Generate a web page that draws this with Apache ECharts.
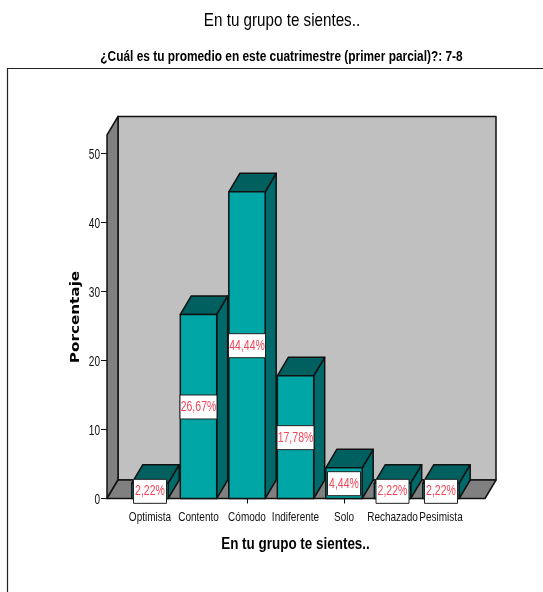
<!DOCTYPE html>
<html>
<head>
<meta charset="utf-8">
<style>html,body{margin:0;padding:0;background:#fff}#chart{width:543px;height:592px}</style>
<script src="https://cdn.jsdelivr.net/npm/echarts@6/dist/echarts.min.js"></script>
</head>
<body>
<div id="chart"></div>
<script>
// Survey responses, percentage of students per answer
const categories = ['Optimista', 'Contento', 'Cómodo', 'Indiferente', 'Solo', 'Rechazado', 'Pesimista'];
const percentages = [2.22, 26.67, 44.44, 17.78, 4.44, 2.22, 2.22];
const yTicks = [0, 10, 20, 30, 40, 50];
const yMax = 52.68;

// Oblique projection used for the box, and the box's margin beside the bands
const DX = 11, DY = 18.5, SIDE_PAD = 18.75;
const SANS = '"Liberation Sans",Arial,sans-serif';
const EDGE = { stroke: '#111', lineWidth: 1.5, lineJoin: 'round' };

function poly(points, fill, z2) {
  return { type: 'polygon', shape: { points }, style: { fill, ...EDGE }, z2: z2 || 0 };
}

// Horizontally condensed text, scaled about its anchor
function narrowText(text, x, y, font, fill, scaleX, z2, align) {
  return {
    type: 'text', x, y, scaleX,
    style: { text, fill, font, align: align || 'center', verticalAlign: 'middle' },
    z2: z2 || 0
  };
}

// Back wall, left wall and floor of the box
function renderBox(params, api) {
  const cs = params.coordSys;
  const l = cs.x - SIDE_PAD, r = cs.x + cs.width + SIDE_PAD + 1;
  const t = cs.y, b = cs.y + cs.height;
  return {
    type: 'group',
    children: [
      poly([[l + DX, t - DY], [r + DX, t - DY], [r + DX, b - DY], [l + DX, b - DY]], '#c0c0c0'),
      poly([[l, t], [l + DX, t - DY], [l + DX, b - DY], [l, b]], '#808080'),
      poly([[l, b], [l + DX, b - DY], [r + DX, b - DY], [r, b]], '#808080')
    ]
  };
}

// One extruded bar, its value tag and its category label
function renderBar(params, api) {
  const i = api.value(0), v = api.value(1);
  const [cx, top] = api.coord([i, v]);
  const [, base] = api.coord([i, 0]);
  const half = api.size([1, 0])[0] * 0.375;
  const x0 = cx - half, x1 = cx + half;
  const mid = (top + base) / 2 + 0.5;
  const text = v.toFixed(2).replace('.', ',') + '%';
  const tagW = text.length * 4 + 13;
  return {
    type: 'group',
    children: [
      poly([[x1, top], [x1 + DX, top - DY], [x1 + DX, base - DY], [x1, base]], '#006a6a', 1),
      poly([[x0, top], [x0 + DX, top - DY], [x1 + DX, top - DY], [x1, top]], '#005f5f', 1),
      poly([[x0, top], [x1, top], [x1, base], [x0, base]], '#00a6a6', 2),
      {
        type: 'rect',
        shape: { x: cx - tagW / 2, y: mid - 12, width: tagW, height: 24 },
        style: { fill: '#fff', stroke: '#222', lineWidth: 1 },
        z2: 3
      },
      narrowText(text, cx, mid, '15px ' + SANS, '#f2465a', 0.7, 4),
      narrowText(categories[i], cx, base + 19, '13px ' + SANS, '#111', 0.77, 4)
    ]
  };
}

// Value axis numbers, condensed like the other chart text
function renderTickLabel(params, api) {
  const v = api.value(0);
  const [x, y] = api.coord([0, v]);
  const xRight = params.coordSys.x - SIDE_PAD - 7;
  return narrowText(String(v), xRight, y + 1.5, '14px ' + SANS, '#111', 0.72, 1, 'right');
}

const chart = echarts.init(document.getElementById('chart'), null, { renderer: 'canvas' });
chart.setOption({
  animation: false,
  grid: { left: 125.75, top: 135, width: 339.5, height: 363.5 },
  xAxis: {
    type: 'category',
    data: categories,
    axisLine: { show: false },
    axisTick: { show: true, alignWithLabel: true, length: 5, lineStyle: { color: '#111' } },
    axisLabel: { show: false }
  },
  yAxis: {
    type: 'value',
    min: 0,
    max: yMax,
    offset: SIDE_PAD,
    splitLine: { show: false },
    axisLine: { show: false },
    axisTick: { show: true, length: 6, customValues: yTicks, lineStyle: { color: '#111' } },
    axisLabel: { show: false }
  },
  series: [
    { type: 'custom', coordinateSystem: 'cartesian2d', clip: false, silent: true, z: 1, data: [[0, 0]], renderItem: renderBox },
    {
      type: 'custom', coordinateSystem: 'cartesian2d', clip: false, z: 2,
      encode: { x: 0, y: 1 },
      data: percentages.map((v, i) => [i, v]),
      renderItem: renderBar
    },
    {
      type: 'custom', coordinateSystem: 'cartesian2d', clip: false, silent: true, z: 2,
      encode: { y: 0 },
      data: yTicks.map(v => [v]),
      renderItem: renderTickLabel
    }
  ],
  graphic: [
    // Frame around the plotting pane
    { type: 'polyline', shape: { points: [[7.5, 592], [7.5, 68.5], [543, 68.5]] }, style: { fill: 'none', stroke: '#222', lineWidth: 1.2 } },
    // Chart title and subtitle
    narrowText('En tu grupo te sientes..', 282, 21, '19px ' + SANS, '#000', 0.8),
    narrowText('¿Cuál es tu promedio en este cuatrimestre (primer parcial)?: 7-8', 281.5, 57, 'bold 14px ' + SANS, '#000', 0.85),
    // Axis titles
    narrowText('En tu grupo te sientes..', 295.5, 545, 'bold 16px ' + SANS, '#000', 0.84),
    {
      type: 'text', x: 75.5, y: 317, rotation: Math.PI / 2, scaleX: 1.17,
      style: { text: 'Porcentaje', font: 'bold 13px "DejaVu Sans",sans-serif', fill: '#000', align: 'center', verticalAlign: 'middle' }
    }
  ]
});
</script>
</body>
</html>
